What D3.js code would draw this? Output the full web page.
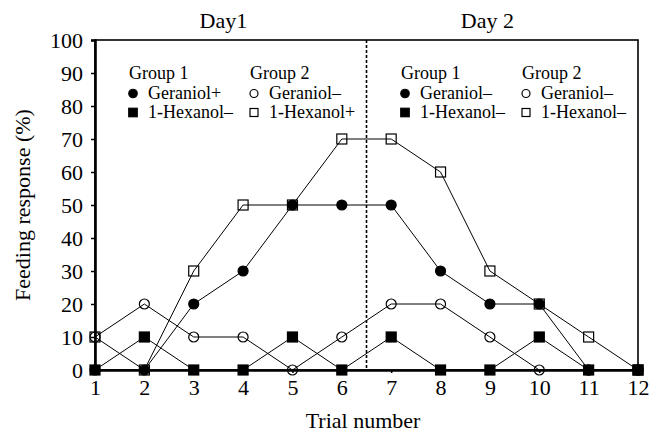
<!DOCTYPE html>
<html><head><meta charset="utf-8">
<script src="https://cdn.jsdelivr.net/npm/d3@7"></script>
</head>
<body style="margin:0">
<svg id="c" width="658" height="434"></svg>
<script>
const trials = [1,2,3,4,5,6,7,8,9,10,11,12];
const geraniolG1 = [0,0,20,30,50,50,50,30,20,20,0,0];
const hexanolG1  = [0,10,0,0,10,0,10,0,0,10,0,0];
const geraniolG2 = [10,20,10,10,0,10,20,20,10,0,0,0];
const hexanolG2  = [10,0,30,50,50,70,70,60,30,20,10,0];
const yTicks = [0,10,20,30,40,50,60,70,80,90,100];
const dayLabels = ["Day1","Day 2"];
const dayCenters = [3.6,8.95];
const dayDivider = 6.5;
const legendDay1 = [["Group 1","Group 2"],["Geraniol+","Geraniol–"],["1-Hexanol–","1-Hexanol+"]];
const legendDay2 = [["Group 1","Group 2"],["Geraniol–","Geraniol–"],["1-Hexanol–","1-Hexanol–"]];
const xTitle = "Trial number";
const yTitle = "Feeding response (%)";

const FONT = "Liberation Serif";
const svg = d3.select("#c");
const L=95,R=638,T=40,B=370;
const x = d3.scaleLinear().domain([1,12]).range([L,R]);
const y = d3.scaleLinear().domain([0,100]).range([B,T]);

svg.append("rect").attr("x",L).attr("y",T).attr("width",R-L).attr("height",B-T)
  .attr("fill","none").attr("stroke","#000").attr("stroke-width",1.6);

svg.append("line").attr("x1",x(dayDivider)).attr("x2",x(dayDivider)).attr("y1",T).attr("y2",B)
  .attr("stroke","#000").attr("stroke-width",1.6).attr("stroke-dasharray","3,2");

const ya = svg.append("g").attr("transform",`translate(${L},0)`)
  .call(d3.axisLeft(y).tickValues(yTicks).tickSize(4).tickPadding(8));
const xa = svg.append("g").attr("transform",`translate(0,${B})`)
  .call(d3.axisBottom(x).tickValues(trials).tickSize(3).tickPadding(6).tickFormat(d3.format("d")));
[ya,xa].forEach(g=>{
  g.attr("font-family",null).attr("font-size",null);
  g.select(".domain").attr("stroke-width",2.6).attr("stroke","#000");
  g.selectAll(".tick line").attr("stroke","#000").attr("stroke-width",1.5);
  g.selectAll(".tick text").attr("font-size",22);
});
ya.selectAll(".tick text").attr("dy","0.34em");
xa.selectAll(".tick text").attr("dy","0.72em");

svg.append("text").attr("x",363).attr("y",428).attr("text-anchor","middle")
  .attr("font-size",22).text(xTitle);
svg.append("text").attr("transform",`translate(30,${(T+B)/2}) rotate(-90)`).attr("text-anchor","middle")
  .attr("font-size",22).text(yTitle);
dayLabels.forEach((t,i)=>svg.append("text").attr("x",x(dayCenters[i])).attr("y",28)
  .attr("text-anchor","middle").attr("font-size",22).text(t));

const series = [
  {v:geraniolG2, shape:"circle", filled:false},
  {v:hexanolG2, shape:"square", filled:false},
  {v:geraniolG1, shape:"circle", filled:true},
  {v:hexanolG1, shape:"square", filled:true}
];
const line = d3.line().x((d,i)=>x(trials[i])).y(d=>y(d));
series.forEach(s=>svg.append("path").attr("d",line(s.v)).attr("fill","none")
  .attr("stroke","#000").attr("stroke-width",1));
function marker(g,shape,filled,cx,cy,sz){
  if(shape==="circle"){
    g.append("circle").attr("cx",cx).attr("cy",cy).attr("r",sz/2)
      .attr("fill",filled?"#000":"none").attr("stroke","#000").attr("stroke-width",1.2);
  } else {
    g.append("rect").attr("x",cx-sz/2).attr("y",cy-sz/2).attr("width",sz).attr("height",sz)
      .attr("fill",filled?"#000":"none").attr("stroke","#000").attr("stroke-width",1.2);
  }
}
series.forEach(s=>{
  const g=svg.append("g");
  s.v.forEach((d,i)=>marker(g,s.shape,s.filled,x(trials[i]),y(d),10));
});

function legend(rows,x0,x1){
  const g=svg.append("g");
  const cols=[x0,x1];
  const shapes=[[null,null],[["circle",true],["circle",false]],[["square",true],["square",false]]];
  const base=[79,99,118];
  rows.forEach((r,ri)=>r.forEach((t,ci)=>{
    if(ri===0){ g.append("text").attr("x",cols[ci]).attr("y",base[ri]).attr("font-size",18).text(t); }
    else {
      const [sh,f]=shapes[ri][ci];
      marker(g,sh,f,cols[ci]+4,base[ri]-5.5,f?8.5:8);
      g.append("text").attr("x",cols[ci]+19).attr("y",base[ri]).attr("font-size",18).text(t);
    }
  }));
}
legend(legendDay1,129,250);
legend(legendDay2,401,522);

svg.selectAll("text").attr("font-family",FONT).attr("fill","#000");
</script></body></html>
